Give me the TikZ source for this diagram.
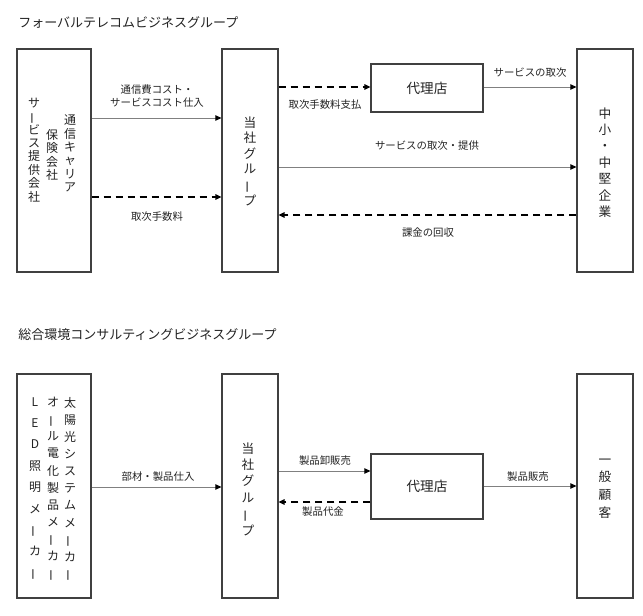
\documentclass[tikz,border=0pt]{standalone}
\usepackage{fontspec}
\setmainfont{Noto Sans CJK JP}
\usepackage{graphicx}
\usetikzlibrary{arrows.meta}
\definecolor{txt}{HTML}{222222}
\definecolor{boxline}{HTML}{404040}
\definecolor{sline}{HTML}{808080}
\newcommand{\vbar}{\rotatebox[origin=c]{90}{ー}}
\tikzset{
  bx/.style={draw=boxline, line width=0.8pt, inner sep=0pt},
  tipA/.tip={Triangle[length=4.5pt,width=4pt,color=black]},
  solidarr/.style={draw=sline, line width=0.7pt, -tipA},
  dasharr/.style={draw=black, line width=1.1pt, dash pattern=on 5.25pt off 3.75pt, -tipA},
  lbl/.style={text=txt, inner sep=0pt, font=\fontsize{7.8pt}{9.75pt}\selectfont, align=center},
  ttl/.style={text=txt, inner sep=0pt, anchor=west, font=\fontsize{9.75pt}{11pt}\selectfont},
  boxtxt/.style={text=txt, inner sep=0pt, font=\fontsize{10.2pt}{12pt}\selectfont},
}
\newcommand{\vfont}[2]{\fontsize{#1pt}{#2pt}\selectfont}
\begin{document}
\begin{tikzpicture}[x=0.75pt,y=-0.75pt]
\useasboundingbox (0,0) rectangle (643,616);
% ---------- top group ----------
\node[ttl] (t1) at (18,22) {フォーバルテレコムビジネスグループ};
\node[bx, minimum width=55.5pt, minimum height=167.25pt] (A) at (54,160.5) {};
\node[bx, minimum width=42pt, minimum height=167.25pt] (M1) at (250,160.5) {};
\node[bx, minimum width=42pt, minimum height=167.25pt] (R1) at (605,160.5) {};
\node[bx, minimum width=84pt, minimum height=36pt] (D1) at (427,88) {};
\node[boxtxt] (D1t) at (D1.center) {代理店};
% vertical texts in left box
\node[text=txt, inner sep=0pt, align=center, font=\vfont{9}{10.05}] (A1) at (34,150) {サ\\\vbar\\ビ\\ス\\提\\供\\会\\社};
\node[text=txt, inner sep=0pt, align=center, font=\vfont{9}{10.05}] (A2) at (52,155) {保\\険\\会\\社};
\node[text=txt, inner sep=0pt, align=center, font=\vfont{9}{10.05}] (A3) at (70,153.5) {通\\信\\キ\\ャ\\リ\\ア};
\node[text=txt, inner sep=0pt, align=center, font=\vfont{9.5}{11.7}] (M1t) at (250,161) {当\\社\\グ\\ル\\\vbar\\プ};
\node[text=txt, inner sep=0pt, align=center, font=\vfont{9.5}{12.3}] (R1t) at (605,162.5) {中\\小\\・\\中\\堅\\企\\業};
% coordinates for arrow heights
\coordinate (y118) at (0,118);
\coordinate (y197) at (0,197);
\coordinate (y87) at (0,87);
\coordinate (y167) at (0,167);
\coordinate (y215) at (0,215);
\draw[solidarr] (A.east |- y118) -- (M1.west |- y118);
\node[lbl] (l1) at (157,96.5) {通信費コスト・\\サービスコスト仕入};
\draw[dasharr] (A.east |- y197) -- (M1.west |- y197);
\node[lbl] (l2) at (157,217) {取次手数料};
\draw[dasharr] (M1.east |- y87) -- (D1.west |- y87);
\node[lbl] (l3) at (325,105) {取次手数料支払};
\draw[solidarr] (D1.east |- y87) -- (R1.west |- y87);
\node[lbl] (l4) at (530,73) {サービスの取次};
\draw[solidarr] (M1.east |- y167) -- (R1.west |- y167);
\node[lbl] (l5) at (427,146) {サービスの取次・提供};
\draw[dasharr] (R1.west |- y215) -- (M1.east |- y215);
\node[lbl] (l6) at (428,233) {課金の回収};
% ---------- bottom group ----------
\node[ttl] (t2) at (18,335) {総合環境コンサルティングビジネスグループ};
\node[bx, minimum width=55.5pt, minimum height=168pt] (B) at (54,486) {};
\node[bx, minimum width=42pt, minimum height=168pt] (M2) at (250,486) {};
\node[bx, minimum width=42pt, minimum height=168pt] (R2) at (605,486) {};
\node[bx, minimum width=84pt, minimum height=48.75pt] (D2) at (427,486.5) {};
\node[boxtxt] (D2t) at (D2.center) {代理店};
\node[text=txt, inner sep=0pt, align=center, font=\vfont{9}{16.05}, anchor=north] (B1) at (35,397) {L\\E\\D\\照\\明\\メ\\\vbar\\カ\\\vbar};
\node[text=txt, inner sep=0pt, align=center, font=\vfont{9}{12.83}, anchor=north] (B2) at (53,397) {オ\\\vbar\\ル\\電\\化\\製\\品\\メ\\\vbar\\カ\\\vbar};
\node[text=txt, inner sep=0pt, align=center, font=\vfont{9}{12.83}, anchor=north] (B3) at (70,397) {太\\陽\\光\\シ\\ス\\テ\\ム\\メ\\\vbar\\カ\\\vbar};
\node[text=txt, inner sep=0pt, align=center, font=\vfont{9.5}{12.3}] (M2t) at (248,489) {当\\社\\グ\\ル\\\vbar\\プ};
\node[text=txt, inner sep=0pt, align=center, font=\vfont{9.5}{13.3}] (R2t) at (605,488.5) {一\\般\\顧\\客};
\coordinate (y487) at (0,487);
\coordinate (y471) at (0,471);
\coordinate (y502) at (0,502);
\coordinate (y486) at (0,486);
\draw[solidarr] (B.east |- y487) -- (M2.west |- y487);
\node[lbl] (l7) at (158,477) {部材・製品仕入};
\draw[solidarr] (M2.east |- y471) -- (D2.west |- y471);
\node[lbl] (l8) at (325,461) {製品卸販売};
\draw[dasharr] (D2.west |- y502) -- (M2.east |- y502);
\node[lbl] (l9) at (323,512) {製品代金};
\draw[solidarr] (D2.east |- y486) -- (R2.west |- y486);
\node[lbl] (l10) at (528,477) {製品販売};
\end{tikzpicture}
\end{document}
